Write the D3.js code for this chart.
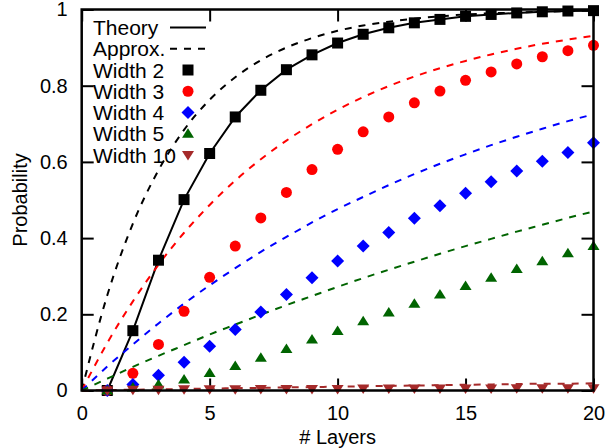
<html>
<head>
<script src="https://d3js.org/d3.v7.min.js"></script>
<style>
  body { margin:0; background:#fff; }
  text { font-family: "Liberation Sans", Arial, sans-serif; }
</style>
</head>
<body>
<svg id="chart" width="608" height="448"></svg>
<script>
// layers 1..20 for the simulated points, 0..20 for the approximation curves
var layers = d3.range(1, 21);
var approxLayers = d3.range(0, 21);

var width2  = [0, 0.157, 0.342, 0.501, 0.622, 0.718, 0.788, 0.842, 0.881, 0.912, 0.935, 0.952, 0.965, 0.974, 0.982, 0.987, 0.991, 0.994, 0.996, 0.997];
var width3  = [0, 0.045, 0.121, 0.208, 0.297, 0.379, 0.453, 0.520, 0.580, 0.633, 0.679, 0.718, 0.755, 0.786, 0.814, 0.836, 0.857, 0.876, 0.892, 0.906];
var width4  = [0, 0.016, 0.040, 0.074, 0.116, 0.160, 0.206, 0.252, 0.296, 0.340, 0.379, 0.415, 0.452, 0.485, 0.518, 0.548, 0.576, 0.602, 0.625, 0.650];
var width5  = [0, 0.008, 0.016, 0.029, 0.046, 0.064, 0.086, 0.109, 0.134, 0.156, 0.182, 0.205, 0.228, 0.252, 0.274, 0.296, 0.319, 0.339, 0.360, 0.379];
var width10 = [0, 0.002, 0.002, 0.003, 0.003, 0.003, 0.004, 0.004, 0.004, 0.004, 0.005, 0.005, 0.005, 0.005, 0.005, 0.005, 0.006, 0.006, 0.006, 0.006];

var approx2  = [0, 0.250, 0.438, 0.578, 0.684, 0.763, 0.822, 0.867, 0.900, 0.925, 0.944, 0.958, 0.968, 0.976, 0.982, 0.987, 0.990, 0.992, 0.994, 0.996, 0.997];
var approx3  = [0, 0.125, 0.234, 0.330, 0.414, 0.487, 0.551, 0.607, 0.656, 0.699, 0.737, 0.770, 0.799, 0.824, 0.846, 0.865, 0.882, 0.897, 0.910, 0.921, 0.931];
var approx4  = [0, 0.063, 0.121, 0.176, 0.228, 0.276, 0.321, 0.364, 0.403, 0.441, 0.476, 0.508, 0.539, 0.568, 0.595, 0.620, 0.644, 0.666, 0.687, 0.707, 0.725];
var approx5  = [0, 0.031, 0.062, 0.091, 0.119, 0.147, 0.173, 0.199, 0.224, 0.248, 0.272, 0.295, 0.317, 0.338, 0.359, 0.379, 0.398, 0.417, 0.435, 0.453, 0.470];
var approx10 = [0, 0.001, 0.002, 0.003, 0.004, 0.005, 0.006, 0.007, 0.008, 0.009, 0.010, 0.011, 0.012, 0.013, 0.014, 0.015, 0.016, 0.017, 0.018, 0.018, 0.019];

var xTicks = [0, 5, 10, 15, 20];
var yTicks = [0, 0.2, 0.4, 0.6, 0.8, 1];

var series = [
  {name: "Width 2",  color: "#000000", shape: "square",  pts: width2,  approx: approx2},
  {name: "Width 3",  color: "#ff0000", shape: "circle",  pts: width3,  approx: approx3},
  {name: "Width 4",  color: "#0000ff", shape: "diamond", pts: width4,  approx: approx4},
  {name: "Width 5",  color: "#006400", shape: "tri",     pts: width5,  approx: approx5},
  {name: "Width 10", color: "#a52a2a", shape: "itri",    pts: width10, approx: approx10}
];

var svg = d3.select("#chart");
var plotL = 81.7, plotR = 593.5, plotT = 9.5, plotB = 390.5;

var x = d3.scaleLinear().domain([0, 20]).range([plotL, plotR]);
var y = d3.scaleLinear().domain([0, 1]).range([plotB, plotT]);

function marker(shape) {
  if (shape == "square") return "M-5.5,-5.5H5.5V5.5H-5.5Z";
  if (shape == "circle") return "M-5.5,0A5.5,5.5 0 1,0 5.5,0A5.5,5.5 0 1,0 -5.5,0Z";
  if (shape == "diamond") return "M0,-6.5L6.5,0L0,6.5L-6.5,0Z";
  if (shape == "tri") return "M0,-5.5L6,4L-6,4Z";
  return "M0,5.5L6,-4L-6,-4Z";
}

// axes, ticks pointing inward on all four sides
var fmt = function(d){ return d3.format("")(d); };
svg.append("g").attr("transform", "translate(0," + plotB + ")")
  .call(d3.axisBottom(x).tickValues(xTicks).tickSize(-12).tickPadding(15).tickFormat(fmt));
svg.append("g").attr("transform", "translate(0," + plotT + ")")
  .call(d3.axisTop(x).tickValues(xTicks).tickSize(-12).tickFormat(""));
svg.append("g").attr("transform", "translate(" + plotL + ",0)")
  .call(d3.axisLeft(y).tickValues(yTicks).tickSize(-12).tickPadding(14).tickFormat(fmt));
svg.append("g").attr("transform", "translate(" + plotR + ",0)")
  .call(d3.axisRight(y).tickValues(yTicks).tickSize(-12).tickFormat(""));

svg.selectAll(".domain").remove();
svg.selectAll(".tick line").attr("stroke", "#000").attr("stroke-width", 2);
svg.selectAll(".tick text").attr("font-size", 20).attr("fill", "#000")
  .style("font-family", "'Liberation Sans', Arial, sans-serif");

svg.append("text")
  .attr("x", (plotL + plotR) / 2).attr("y", 444)
  .attr("text-anchor", "middle").attr("font-size", 20)
  .text("# Layers");
svg.append("text")
  .attr("transform", "translate(27," + ((plotT + plotB) / 2) + ") rotate(-90)")
  .attr("text-anchor", "middle").attr("font-size", 20)
  .text("Probability");

var approxLine = d3.line()
  .x(function(d, i){ return x(approxLayers[i]); })
  .y(function(d){ return y(d); })
  .curve(d3.curveMonotoneX);
var theoryLine = d3.line()
  .x(function(d, i){ return x(layers[i]); })
  .y(function(d){ return y(d); });

// black theory line under the squares
svg.append("path").attr("d", theoryLine(width2))
  .attr("fill", "none").attr("stroke", "#000").attr("stroke-width", 2);

series.forEach(function(s) {
  svg.append("path").attr("d", approxLine(s.approx))
    .attr("fill", "none").attr("stroke", s.color)
    .attr("stroke-width", 2).attr("stroke-dasharray", "7,7");
});

series.forEach(function(s) {
  svg.selectAll(null).data(s.pts).enter().append("path")
    .attr("d", marker(s.shape))
    .attr("transform", function(d, i){ return "translate(" + x(layers[i]) + "," + y(d) + ")"; })
    .attr("fill", s.color);
});

// frame
svg.append("rect").attr("x", plotL).attr("y", plotT)
  .attr("width", plotR - plotL).attr("height", plotB - plotT)
  .attr("fill", "none").attr("stroke", "#000").attr("stroke-width", 2.5);

// key
var key = svg.append("g");
var rowY = function(i){ return 27.5 + i * 21.25; };
var keyRows = [{name: "Theory", kind: "solid"}, {name: "Approx.", kind: "dash"}]
  .concat(series.map(function(s){ return {name: s.name, kind: "mark", s: s}; }));
keyRows.forEach(function(r, i) {
  key.append("text").attr("x", 93).attr("y", rowY(i) + 7.5)
    .attr("font-size", 21).text(r.name);
  if (r.kind == "solid") {
    key.append("line").attr("x1", 170).attr("x2", 206).attr("y1", rowY(i)).attr("y2", rowY(i))
      .attr("stroke", "#000").attr("stroke-width", 2);
  } else if (r.kind == "dash") {
    key.append("line").attr("x1", 170).attr("x2", 206).attr("y1", rowY(i)).attr("y2", rowY(i))
      .attr("stroke", "#000").attr("stroke-width", 2).attr("stroke-dasharray", "7,7");
  } else {
    key.append("path").attr("d", marker(r.s.shape))
      .attr("transform", "translate(188," + rowY(i) + ")")
      .attr("fill", r.s.color);
  }
});
</script>
</body>
</html>
